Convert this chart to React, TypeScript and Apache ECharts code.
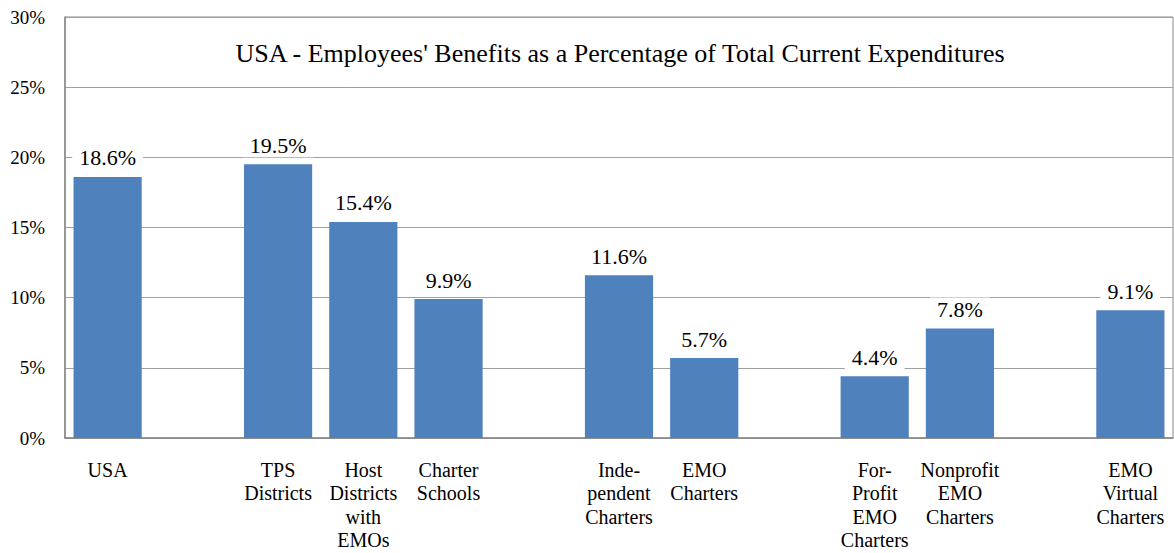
import React, { useEffect, useRef } from "react";
import * as echarts from "echarts";

const categories = [
  "USA",
  "",
  "TPS\nDistricts",
  "Host\nDistricts\nwith\nEMOs",
  "Charter\nSchools",
  " ",
  "Inde-\npendent\nCharters",
  "EMO\nCharters",
  "  ",
  "For-\nProfit\nEMO\nCharters",
  "Nonprofit\nEMO\nCharters",
  "   ",
  "EMO\nVirtual\nCharters",
];
const values: (number | null)[] = [18.6, null, 19.5, 15.4, 9.9, null, 11.6, 5.7, null, 4.4, 7.8, null, 9.1];
const titleText = "USA - Employees' Benefits as a Percentage of Total Current Expenditures";
const FONT = "'Liberation Serif', 'Times New Roman', serif";

export default function App() {
  const ref = useRef<HTMLDivElement>(null);
  useEffect(() => {
    if (!ref.current) return;
    const chart = echarts.init(ref.current, null, { renderer: "svg" });
    chart.setOption({
      animation: false,
      backgroundColor: "#ffffff",
      textStyle: { fontFamily: FONT },
      grid: {
        left: 65,
        right: 1,
        top: 17,
        bottom: 115,
        containLabel: false,
        show: true,
        borderColor: "#888888",
        borderWidth: 1,
      },
      graphic: [
        {
          type: "text",
          x: 620,
          y: 53,
          style: {
            text: titleText,
            fontFamily: FONT,
            fontSize: 26,
            fill: "#000000",
            textAlign: "center",
            textVerticalAlign: "middle",
          },
        },
      ],
      xAxis: {
        type: "category",
        data: categories,
        axisTick: { show: false },
        axisLine: { lineStyle: { color: "#888888", width: 1.5 } },
        axisLabel: {
          interval: 0,
          color: "#000000",
          fontFamily: FONT,
          fontSize: 20,
          lineHeight: 23.5,
          margin: 20,
          align: "center",
        },
      },
      yAxis: {
        type: "value",
        min: 0,
        max: 30,
        interval: 5,
        axisLine: { show: true, lineStyle: { color: "#888888", width: 1.5 } },
        axisTick: { show: false },
        splitLine: { lineStyle: { color: "#a0a0a0", width: 1 } },
        axisLabel: {
          formatter: "{value}%",
          color: "#000000",
          fontFamily: FONT,
          fontSize: 19,
          margin: 20,
        },
      },
      series: [
        {
          type: "bar",
          data: values,
          barCategoryGap: "20%",
          itemStyle: { color: "#4f81bd" },
          label: {
            show: true,
            position: "top",
            distance: 7,
            formatter: "{c}%",
            color: "#000000",
            fontFamily: FONT,
            fontSize: 22,
            backgroundColor: "#ffffff",
            padding: [1, 7, 1, 7],
          },
        },
      ],
    });
    return () => chart.dispose();
  }, []);
  return (
    <div
      ref={ref}
      style={{ position: "fixed", left: 0, top: 0, width: 1174, height: 553 }}
    />
  );
}
